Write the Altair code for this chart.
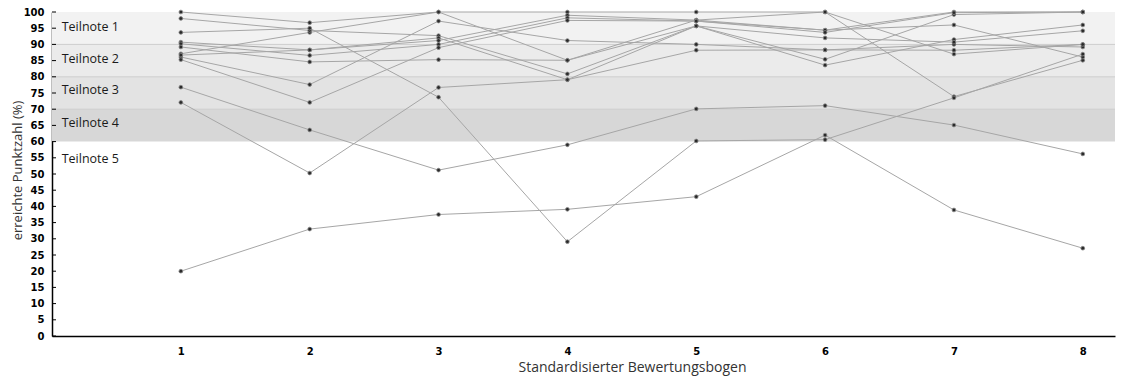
import altair as alt
import pandas as pd

# Standardised assessment sheets (x axis)
bogen = [1, 2, 3, 4, 5, 6, 7, 8]

# achieved score (%) per participant
s01 = [100.0, 96.7, 100.0, 100.0, 100.0, 100.0, 73.9, 85.1]
s02 = [87.1, 93.7, 100.0, 85.1, 97.5, 100.0, 87.0, 90.0]
s03 = [86.1, 77.6, 97.2, 91.2, 90.0, 88.3, 90.0, 89.2]
s04 = [98.0, 94.3, 92.7, 80.9, 95.7, 85.4, 99.2, 100.0]
s05 = [90.7, 88.3, 92.0, 79.1, 95.7, 83.6, 91.5, 96.0]
s06 = [86.7, 88.3, 91.2, 99.0, 97.5, 94.4, 100.0, 100.0]
s07 = [90.2, 86.6, 90.0, 98.2, 97.2, 94.4, 96.0, 86.1]
s08 = [85.3, 72.1, 89.0, 97.4, 97.2, 93.7, 99.8, 100.0]
s09 = [89.2, 84.6, 85.3, 85.1, 95.7, 92.0, 90.7, 94.2]
s10 = [72.1, 50.3, 76.7, 79.1, 88.2, 88.3, 88.2, 90.0]
s11 = [93.7, 95.0, 73.7, 29.1, 60.2, 60.6, 73.5, 87.0]
s12 = [76.8, 63.6, 51.2, 59.0, 70.1, 71.1, 65.1, 56.2]
s13 = [20.0, 33.0, 37.5, 39.1, 43.0, 62.0, 38.9, 27.1]
series = [s01, s02, s03, s04, s05, s06, s07, s08, s09, s10, s11, s12, s13]

# grade bands
band_lo = [90, 80, 70, 60]
band_hi = [100, 90, 80, 70]
band_color = ["#f2f2f2", "#ebebeb", "#e3e3e3", "#d7d7d7"]
band_text = ["Teilnote 1", "Teilnote 2", "Teilnote 3", "Teilnote 4", "Teilnote 5"]
band_text_y = [95.3, 85.4, 75.8, 65.8, 54.6]
band_edges = [90, 80, 70]
y_ticks = list(range(0, 101, 5))

rows = []
for i, s in enumerate(series):
    for x, v in zip(bogen, s):
        rows.append({"serie": f"P{i+1:02d}", "bogen": x, "wert": v})
df = pd.DataFrame(rows)

bands = pd.DataFrame({"lo": band_lo, "hi": band_hi, "farbe": band_color,
                      "bogen": [0] * 4, "x1": [8.25] * 4})
labels = pd.DataFrame({"text": band_text, "wert": band_text_y, "bogen": [0.075] * 5})
edges = pd.DataFrame({"wert": band_edges})
ticks = pd.DataFrame({"wert": y_ticks})

xs = alt.Scale(domain=[0, 8.25], nice=False, zero=False)
ys = alt.Scale(domain=[0, 100], nice=False, zero=True)

x_axis = alt.Axis(values=bogen, format="d", ticks=False, grid=False,
                  domainColor="#000000", domainWidth=1.5,
                  labelFont="DejaVu Sans", labelFontWeight="bold",
                  labelFontSize=10, labelColor="#000000", labelPadding=10,
                  title="Standardisierter Bewertungsbogen",
                  titleFont="Open Sans", titleFontSize=14,
                  titleFontWeight="normal", titleColor="#333333",
                  titleX=580, titleY=31, titleBaseline="middle",
                  titleAlign="center")
y_axis = alt.Axis(values=y_ticks, ticks=False, grid=False,
                  domainColor="#000000", domainWidth=1.5,
                  labelFont="DejaVu Sans", labelFontWeight="bold",
                  labelFontSize=10, labelColor="#000000", labelPadding=8,
                  title="erreichte Punktzahl (%)",
                  titleFont="Open Sans", titleFontSize=13,
                  titleFontWeight="normal", titleColor="#333333",
                  titleX=-35, titleY=158, titleAngle=270,
                  titleAlign="center", titleBaseline="middle")

X = lambda f: alt.X(f, scale=xs, axis=x_axis)
Y = lambda f: alt.Y(f, scale=ys, axis=y_axis)

band_layer = alt.Chart(bands).mark_rect(strokeWidth=0).encode(
    x=X("bogen:Q"),
    x2="x1:Q",
    y=Y("lo:Q"),
    y2="hi:Q",
    color=alt.Color("farbe:N", scale=None),
)

edge_layer = alt.Chart(edges).mark_rule(color="#cdcdcd", strokeWidth=1).encode(
    y=Y("wert:Q"),
)

tick_layer = alt.Chart(ticks).mark_rule(color="#000000", strokeWidth=1).encode(
    y=Y("wert:Q"),
    x=alt.value(0),
    x2=alt.value(4),
)

text_layer = alt.Chart(labels).mark_text(
    align="left", baseline="middle", font="Open Sans", fontSize=12.5, color="#1a1a1a"
).encode(
    x=X("bogen:Q"),
    y=Y("wert:Q"),
    text="text:N",
)

line_layer = alt.Chart(df).mark_line(color="#a6a6a6", strokeWidth=1).encode(
    x=X("bogen:Q"),
    y=Y("wert:Q"),
    detail="serie:N",
    order="bogen:Q",
)

point_layer = alt.Chart(df).mark_point(
    filled=True, size=14, color="#2a2a2a", stroke="#8a8a8a", strokeWidth=0.8, opacity=1
).encode(
    x=X("bogen:Q"),
    y=Y("wert:Q"),
    detail="serie:N",
)

chart = alt.layer(
    band_layer, edge_layer, text_layer, line_layer, point_layer, tick_layer
).properties(
    width=1063,
    height=324,
    padding={"left": 44, "top": 4, "right": 13, "bottom": 40},
    autosize=alt.AutoSizeParams(type="none"),
).configure_view(stroke=None).configure_axis(labelOverlap=False)

chart.save("out.html", embed_options={"renderer": "svg", "actions": False})
